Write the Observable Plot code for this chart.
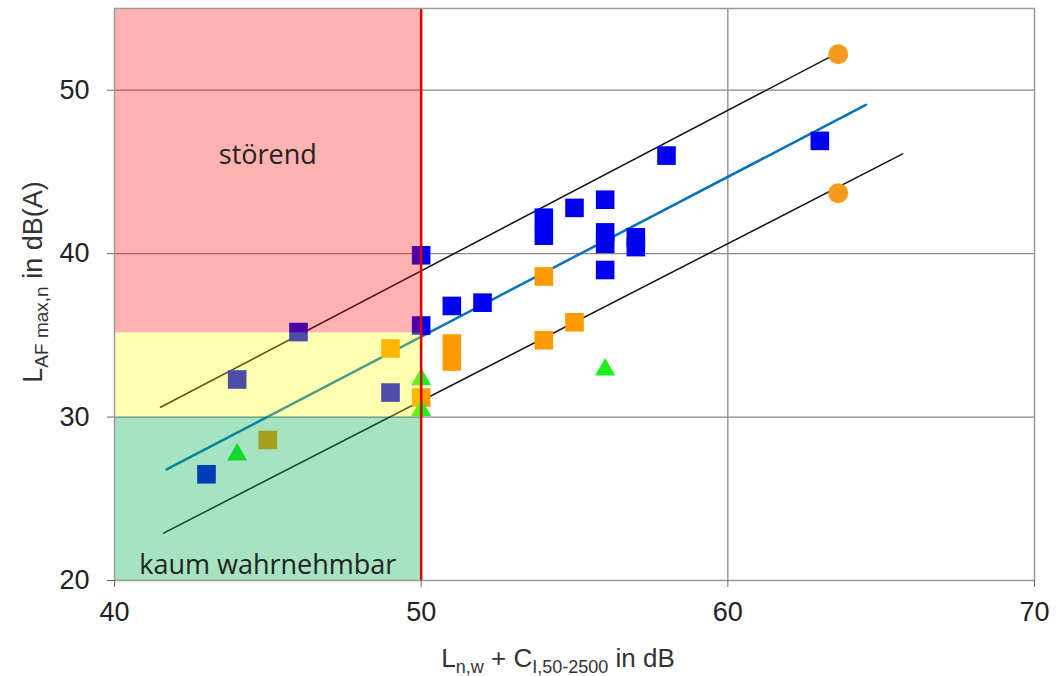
<!DOCTYPE html>
<html>
<head>
<meta charset="utf-8">
<script src="https://cdn.jsdelivr.net/npm/d3@7"></script>
<script src="https://cdn.jsdelivr.net/npm/@observablehq/plot@0.6"></script>
<style>
  html, body { margin: 0; padding: 0; background: #fff; }
  #chart svg { display: block; }
</style>
</head>
<body>
<div id="chart"></div>
<script>
// ---- data ----
const xTicks = [40, 50, 60, 70];
const yTicks = [20, 30, 40, 50];

const blueSquaresX = [43, 44, 46, 49, 50, 50, 51, 52, 54, 54, 55, 56, 56, 56, 56, 57, 57, 58, 63];
const blueSquaresY = [26.5, 32.3, 35.2, 31.5, 39.9, 35.6, 36.8, 37.0, 42.2, 41.1, 42.8, 43.3, 41.3, 40.6, 39.0, 41.0, 40.4, 46.0, 46.9];

const orangeSquaresX = [45, 49, 50, 51, 51, 54, 54, 55];
const orangeSquaresY = [28.6, 34.2, 31.2, 34.5, 33.4, 38.6, 34.7, 35.8];

const greenTrianglesX = [44, 50, 50, 56];
const greenTrianglesY = [27.7, 32.3, 30.4, 32.9];

const orangeCirclesX = [63.6, 63.6];
const orangeCirclesY = [52.2, 43.7];

const upperLineX = [41.5, 63.6];
const upperLineY = [30.6, 52.3];
const fitLineX = [41.7, 64.5];
const fitLineY = [26.8, 49.1];
const lowerLineX = [41.6, 65.7];
const lowerLineY = [22.9, 46.1];

const zoneNames = ["störend", "mittel", "kaum wahrnehmbar"];
const zoneX1 = [40, 40, 40];
const zoneX2 = [50, 50, 50];
const zoneY1 = [35.15, 30, 20];
const zoneY2 = [55, 35.15, 30];
const zoneColors = ["#FF0000", "#FFFF00", "#00B050"];
const zoneOpacity = [0.3, 0.3, 0.35];

const limitX = 50;
const labelTexts = ["störend", "kaum wahrnehmbar"];
const labelX = [45, 45];
const labelY = [46.0, 20.95];

// ---- build tables ----
const pts = (xs, ys) => xs.map((x, i) => ({x, y: ys[i]}));
const blueSq = pts(blueSquaresX, blueSquaresY);
const orangeSq = pts(orangeSquaresX, orangeSquaresY);
const greenTri = pts(greenTrianglesX, greenTrianglesY);
const orangeCi = pts(orangeCirclesX, orangeCirclesY);
const upper = pts(upperLineX, upperLineY);
const fit = pts(fitLineX, fitLineY);
const lower = pts(lowerLineX, lowerLineY);
const zones = zoneNames.map((n, i) => ({n, x1: zoneX1[i], x2: zoneX2[i], y1: zoneY1[i], y2: zoneY2[i], c: zoneColors[i], o: zoneOpacity[i]}));
const labels = labelTexts.map((t, i) => ({t, x: labelX[i], y: labelY[i]}));

const W = 1061, H = 676;
const mL = 114, mR = 27, mT = 8, mB = 96;

const plot = Plot.plot({
  width: W,
  height: H,
  marginLeft: mL,
  marginRight: mR,
  marginTop: mT,
  marginBottom: mB,
  style: {fontFamily: "'Liberation Sans', Arial, sans-serif", background: "#fff", color: "#222"},
  x: {domain: [40, 70], ticks: xTicks, label: null},
  y: {domain: [20, 55], ticks: yTicks, label: null},
  marks: [
    Plot.gridX([60], {stroke: "#8a8a8a", strokeOpacity: 1, strokeWidth: 1.3}),
    Plot.gridY([30, 40, 50], {stroke: "#8a8a8a", strokeOpacity: 1, strokeWidth: 1.3}),
    Plot.line(upper, {x: "x", y: "y", stroke: "#111", strokeWidth: 1.5}),
    Plot.line(lower, {x: "x", y: "y", stroke: "#111", strokeWidth: 1.5}),
    Plot.line(fit, {x: "x", y: "y", stroke: "#0070C0", strokeWidth: 2.5}),
    Plot.dot(orangeSq, {x: "x", y: "y", symbol: "square", r: 10.5, fill: "#FF9A00", stroke: "none"}),
    Plot.dot(blueSq, {x: "x", y: "y", symbol: "square", r: 10.5, fill: "#0000F0", stroke: "none"}),
    Plot.dot(orangeCi, {x: "x", y: "y", symbol: "circle", r: 10, fill: "#F59A1C", stroke: "none"}),
    Plot.dot(greenTri, {x: "x", y: "y", symbol: "triangle", r: 7.5, fill: "#1EF01E", stroke: "none"}),
    Plot.rect(zones, {x1: "x1", x2: "x2", y1: "y1", y2: "y2", fill: "c", fillOpacity: "o"}),
    Plot.ruleX([limitX], {y1: 20, y2: 55, stroke: "#E00000", strokeWidth: 2.5}),
    Plot.frame({stroke: "#9a9a9a", strokeWidth: 1.5}),
    Plot.text(labels, {x: "x", y: "y", text: "t", fontSize: 27, fill: "#222", fontFamily: "'Open Sans', 'Noto Sans', sans-serif", textAnchor: "middle"}),
    Plot.axisX({ticks: xTicks, tickSize: 7, tickPadding: 14, fontSize: 27, label: null, stroke: "#666"}),
    Plot.axisY({ticks: yTicks, tickSize: 7, tickPadding: 18, fontSize: 27, label: null, stroke: "#666"})
  ]
});

document.getElementById("chart").appendChild(plot);

// ---- axis titles with subscripts (real text) ----
const svg = d3.select(plot);
const xt = svg.append("text")
  .attr("x", 558).attr("y", 667)
  .attr("text-anchor", "middle")
  .attr("font-family", "'Liberation Sans', Arial, sans-serif")
  .attr("font-size", 26).attr("fill", "#333");
xt.append("tspan").text("L");
xt.append("tspan").attr("font-size", 18).attr("dy", 6).text("n,w");
xt.append("tspan").attr("dy", -6).text(" + C");
xt.append("tspan").attr("font-size", 18).attr("dy", 6).text("I,50-2500");
xt.append("tspan").attr("dy", -6).text(" in dB");

const yt = svg.append("text")
  .attr("transform", "translate(42,282) rotate(-90)")
  .attr("text-anchor", "middle")
  .attr("font-family", "'Liberation Sans', Arial, sans-serif")
  .attr("font-size", 27).attr("fill", "#333");
yt.append("tspan").text("L");
yt.append("tspan").attr("font-size", 19).attr("dy", 6).text("AF max,n");
yt.append("tspan").attr("dy", -6).text(" in dB(A)");
</script>
</body>
</html>
